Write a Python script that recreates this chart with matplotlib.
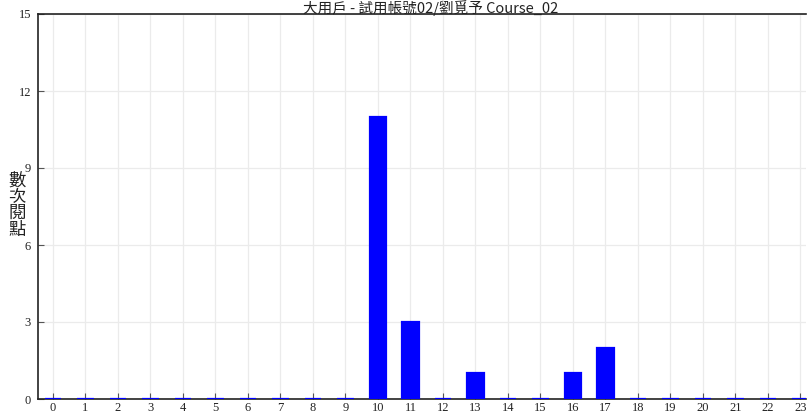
import matplotlib
matplotlib.use('Agg')

import matplotlib.pyplot as plt

hours = list(range(24))
counts = [0, 0, 0, 0, 0, 0, 0, 0, 0, 0, 11, 3, 0, 1, 0, 0, 1, 2, 0, 0, 0, 0, 0, 0]
y_ticks = [0, 3, 6, 9, 12, 15]
title = '大用戶 - 試用帳號02/劉覓予 Course_02'
ylabel_chars = ['數', '次', '閱', '點']

CJK = ['Noto Sans CJK TC', 'DejaVu Sans']
SERIF = ['Liberation Serif', 'DejaVu Serif']

W, H = 807, 416
fig = plt.figure(figsize=(W / 100, H / 100), dpi=100)
ax = fig.add_axes([38 / W, (H - 399) / H, (806 - 38) / W, (399 - 14) / H])

ax.bar(hours, counts, width=0.5, color='#0000FF', edgecolor='#0000FF',
       linewidth=1.6, zorder=3)

ax.set_xlim(-0.46, 23.17)
ax.set_ylim(0, 15)
ax.set_xticks(hours)
ax.set_yticks(y_ticks)
ax.grid(True, color='#EBEBEB', linewidth=0.9, zorder=0)
ax.set_axisbelow(True)

for s in ['left', 'top', 'bottom']:
    ax.spines[s].set_color('#222222')
    ax.spines[s].set_linewidth(1.2)
ax.spines['right'].set_visible(False)

ax.tick_params(axis='both', direction='in', length=4, width=0.8,
               color='#555555', labelsize=9, labelcolor='#222222')
ax.tick_params(axis='y', pad=5)
ax.tick_params(axis='x', pad=2)
for lab in ax.get_xticklabels() + ax.get_yticklabels():
    lab.set_family(SERIF)

fig.text(0.533, 1.0, title, ha='center', va='top',
         fontsize=10.5, family=CJK, color='#222222')

fig.text(17 / W, 1 - 205 / H, '\n'.join(ylabel_chars), ha='center',
         va='center', fontsize=12.5, family=CJK, color='#222222',
         linespacing=0.9)

fig.savefig('out.png', dpi=100, facecolor='white')
